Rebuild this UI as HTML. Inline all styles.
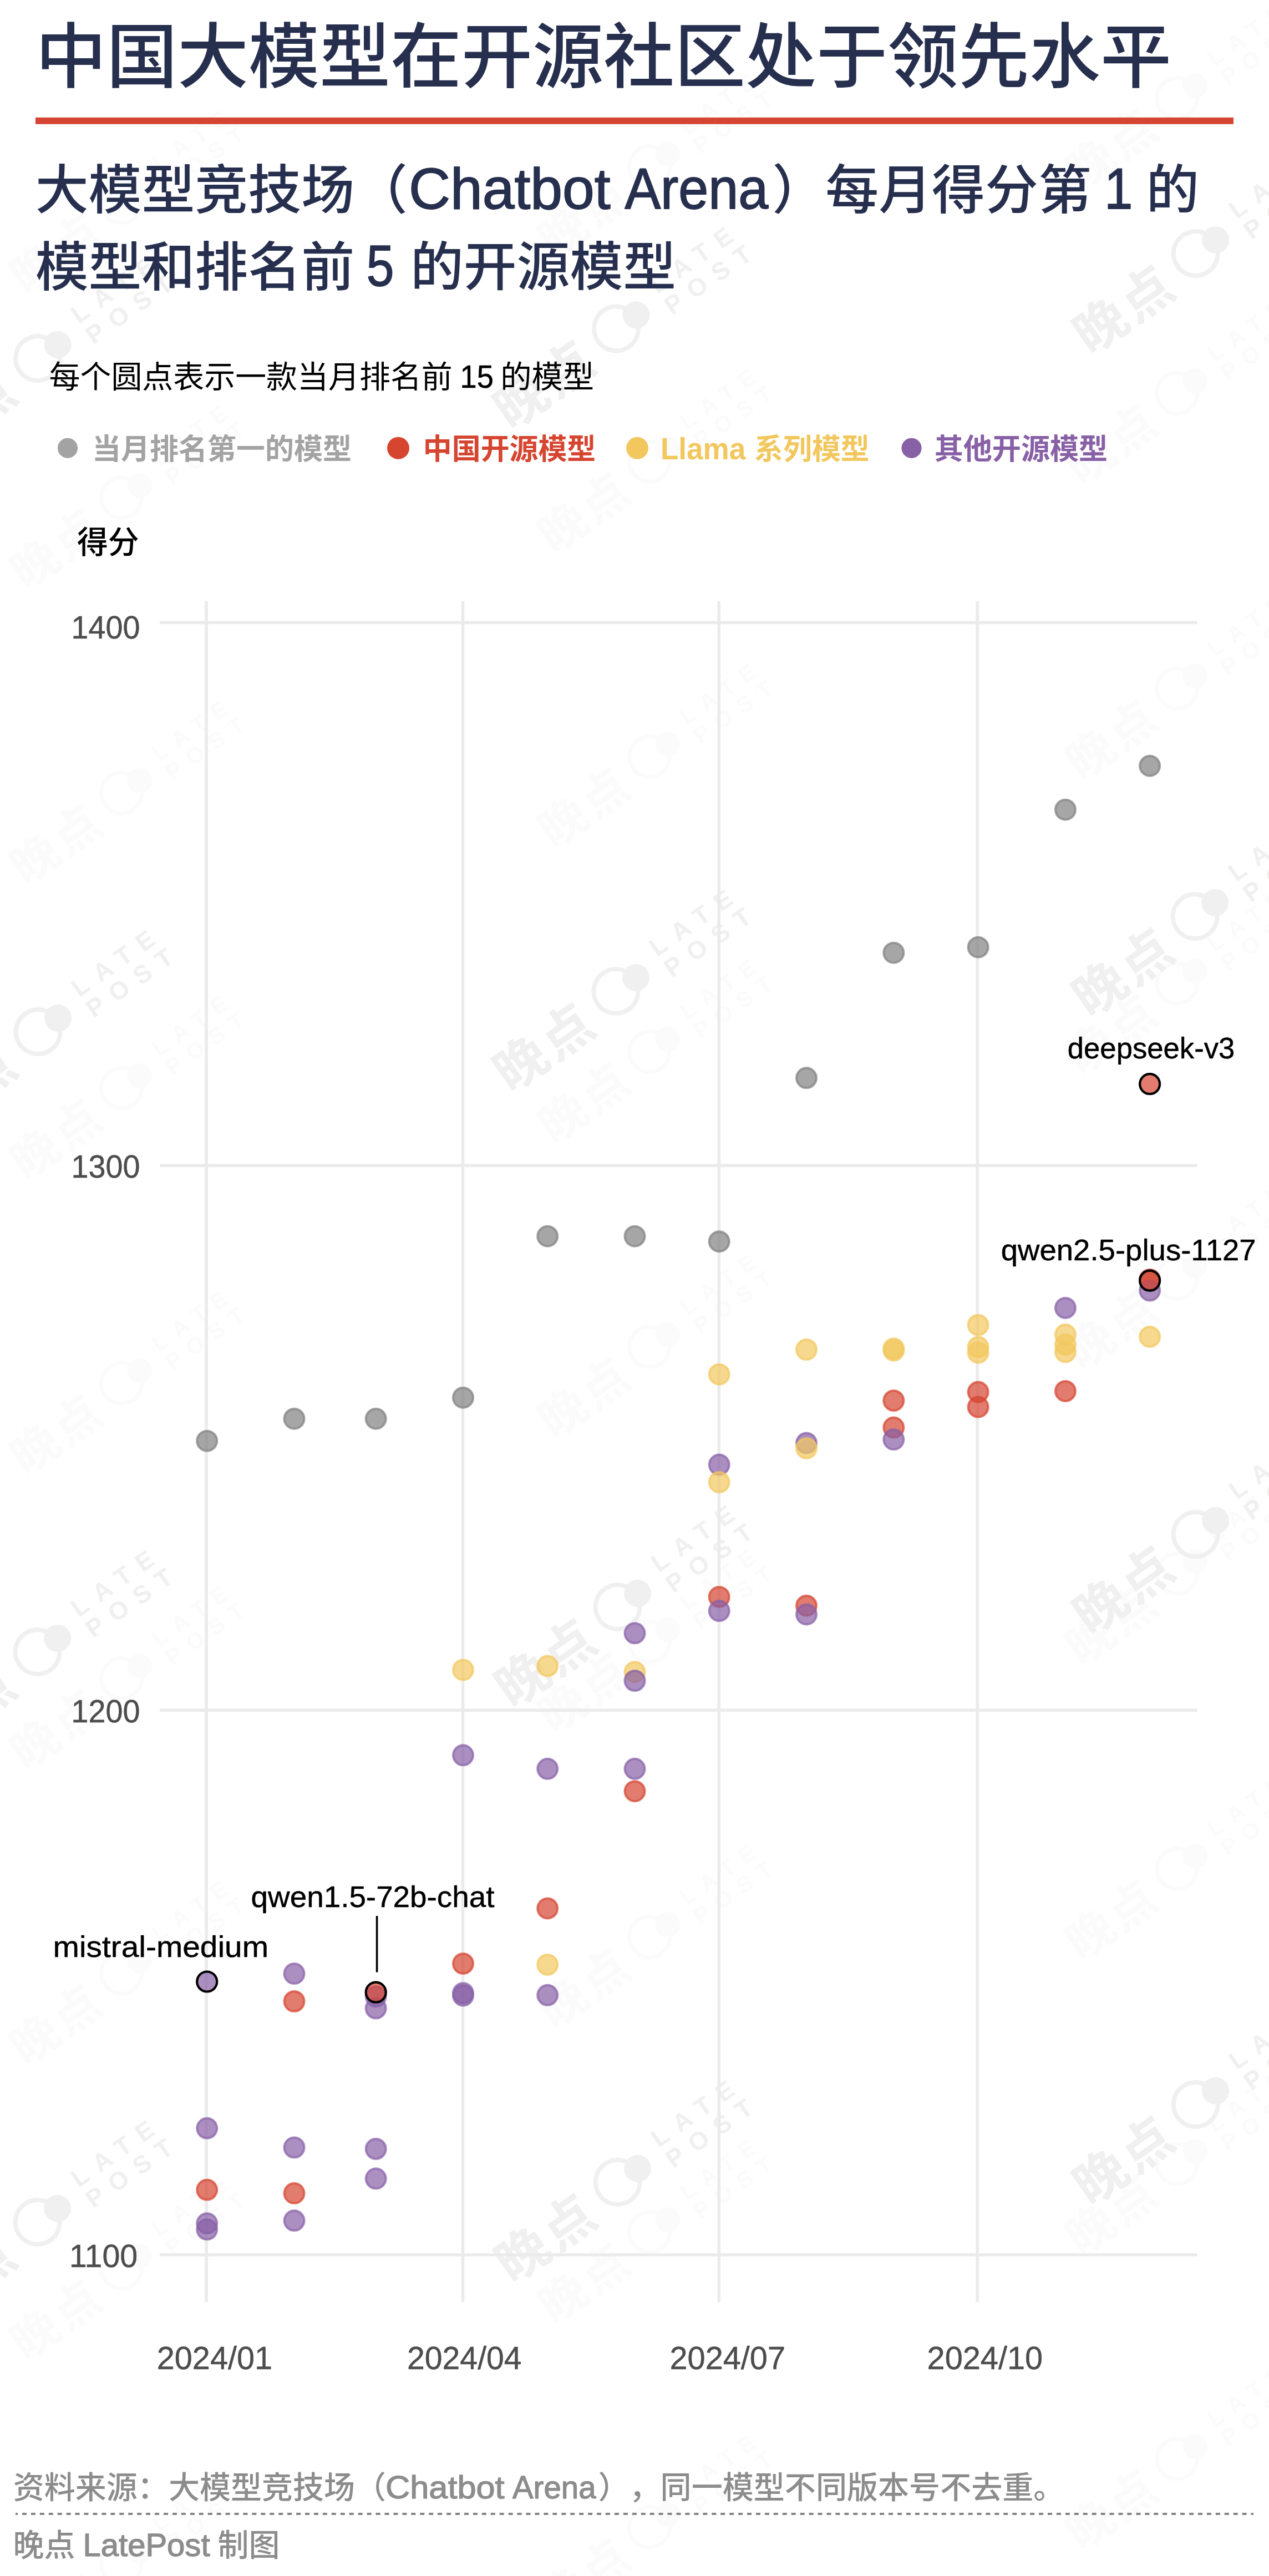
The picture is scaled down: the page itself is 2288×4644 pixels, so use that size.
<!DOCTYPE html>
<html lang="zh-CN"><head><meta charset="utf-8"><title>中国大模型在开源社区处于领先水平</title>
<style>
html,body{margin:0;padding:0;background:#fff;}
body{width:2288px;height:4644px;overflow:hidden;}
svg{display:block;font-family:"Liberation Sans","Noto Sans CJK SC",sans-serif;}
text{white-space:pre;text-spacing-trim:space-all;}
</style></head><body>
<svg width="2288" height="4644" viewBox="0 0 2288 4644">
<g transform="translate(219 -166.3) rotate(-35) scale(0.91)" fill="#fbfbfb" font-weight="700"><circle r="40" fill="none" stroke="#fbfbfb" stroke-width="8"/><circle cx="43.6" cy="0.5" r="24.5"/><text x="-262" y="42" font-size="94" letter-spacing="6">晚点</text><text x="96" y="-8" font-size="45" letter-spacing="19">LATE</text><text x="96" y="38" font-size="45" letter-spacing="19">POST</text></g>
<g transform="translate(219 365.7) rotate(-35) scale(0.91)" fill="#fbfbfb" font-weight="700"><circle r="40" fill="none" stroke="#fbfbfb" stroke-width="8"/><circle cx="43.6" cy="0.5" r="24.5"/><text x="-262" y="42" font-size="94" letter-spacing="6">晚点</text><text x="96" y="-8" font-size="45" letter-spacing="19">LATE</text><text x="96" y="38" font-size="45" letter-spacing="19">POST</text></g>
<g transform="translate(1171 300) rotate(-35) scale(0.91)" fill="#fbfbfb" font-weight="700"><circle r="40" fill="none" stroke="#fbfbfb" stroke-width="8"/><circle cx="43.6" cy="0.5" r="24.5"/><text x="-262" y="42" font-size="94" letter-spacing="6">晚点</text><text x="96" y="-8" font-size="45" letter-spacing="19">LATE</text><text x="96" y="38" font-size="45" letter-spacing="19">POST</text></g>
<g transform="translate(2122 177) rotate(-35) scale(0.91)" fill="#fbfbfb" font-weight="700"><circle r="40" fill="none" stroke="#fbfbfb" stroke-width="8"/><circle cx="43.6" cy="0.5" r="24.5"/><text x="-262" y="42" font-size="94" letter-spacing="6">晚点</text><text x="96" y="-8" font-size="45" letter-spacing="19">LATE</text><text x="96" y="38" font-size="45" letter-spacing="19">POST</text></g>
<g transform="translate(219 897.7) rotate(-35) scale(0.91)" fill="#fbfbfb" font-weight="700"><circle r="40" fill="none" stroke="#fbfbfb" stroke-width="8"/><circle cx="43.6" cy="0.5" r="24.5"/><text x="-262" y="42" font-size="94" letter-spacing="6">晚点</text><text x="96" y="-8" font-size="45" letter-spacing="19">LATE</text><text x="96" y="38" font-size="45" letter-spacing="19">POST</text></g>
<g transform="translate(1171 832) rotate(-35) scale(0.91)" fill="#fbfbfb" font-weight="700"><circle r="40" fill="none" stroke="#fbfbfb" stroke-width="8"/><circle cx="43.6" cy="0.5" r="24.5"/><text x="-262" y="42" font-size="94" letter-spacing="6">晚点</text><text x="96" y="-8" font-size="45" letter-spacing="19">LATE</text><text x="96" y="38" font-size="45" letter-spacing="19">POST</text></g>
<g transform="translate(2122 709) rotate(-35) scale(0.91)" fill="#fbfbfb" font-weight="700"><circle r="40" fill="none" stroke="#fbfbfb" stroke-width="8"/><circle cx="43.6" cy="0.5" r="24.5"/><text x="-262" y="42" font-size="94" letter-spacing="6">晚点</text><text x="96" y="-8" font-size="45" letter-spacing="19">LATE</text><text x="96" y="38" font-size="45" letter-spacing="19">POST</text></g>
<g transform="translate(219 1429.7) rotate(-35) scale(0.91)" fill="#fbfbfb" font-weight="700"><circle r="40" fill="none" stroke="#fbfbfb" stroke-width="8"/><circle cx="43.6" cy="0.5" r="24.5"/><text x="-262" y="42" font-size="94" letter-spacing="6">晚点</text><text x="96" y="-8" font-size="45" letter-spacing="19">LATE</text><text x="96" y="38" font-size="45" letter-spacing="19">POST</text></g>
<g transform="translate(1171 1364) rotate(-35) scale(0.91)" fill="#fbfbfb" font-weight="700"><circle r="40" fill="none" stroke="#fbfbfb" stroke-width="8"/><circle cx="43.6" cy="0.5" r="24.5"/><text x="-262" y="42" font-size="94" letter-spacing="6">晚点</text><text x="96" y="-8" font-size="45" letter-spacing="19">LATE</text><text x="96" y="38" font-size="45" letter-spacing="19">POST</text></g>
<g transform="translate(2122 1241) rotate(-35) scale(0.91)" fill="#fbfbfb" font-weight="700"><circle r="40" fill="none" stroke="#fbfbfb" stroke-width="8"/><circle cx="43.6" cy="0.5" r="24.5"/><text x="-262" y="42" font-size="94" letter-spacing="6">晚点</text><text x="96" y="-8" font-size="45" letter-spacing="19">LATE</text><text x="96" y="38" font-size="45" letter-spacing="19">POST</text></g>
<g transform="translate(219 1961.7) rotate(-35) scale(0.91)" fill="#fbfbfb" font-weight="700"><circle r="40" fill="none" stroke="#fbfbfb" stroke-width="8"/><circle cx="43.6" cy="0.5" r="24.5"/><text x="-262" y="42" font-size="94" letter-spacing="6">晚点</text><text x="96" y="-8" font-size="45" letter-spacing="19">LATE</text><text x="96" y="38" font-size="45" letter-spacing="19">POST</text></g>
<g transform="translate(1171 1896) rotate(-35) scale(0.91)" fill="#fbfbfb" font-weight="700"><circle r="40" fill="none" stroke="#fbfbfb" stroke-width="8"/><circle cx="43.6" cy="0.5" r="24.5"/><text x="-262" y="42" font-size="94" letter-spacing="6">晚点</text><text x="96" y="-8" font-size="45" letter-spacing="19">LATE</text><text x="96" y="38" font-size="45" letter-spacing="19">POST</text></g>
<g transform="translate(2122 1773) rotate(-35) scale(0.91)" fill="#fbfbfb" font-weight="700"><circle r="40" fill="none" stroke="#fbfbfb" stroke-width="8"/><circle cx="43.6" cy="0.5" r="24.5"/><text x="-262" y="42" font-size="94" letter-spacing="6">晚点</text><text x="96" y="-8" font-size="45" letter-spacing="19">LATE</text><text x="96" y="38" font-size="45" letter-spacing="19">POST</text></g>
<g transform="translate(219 2493.7) rotate(-35) scale(0.91)" fill="#fbfbfb" font-weight="700"><circle r="40" fill="none" stroke="#fbfbfb" stroke-width="8"/><circle cx="43.6" cy="0.5" r="24.5"/><text x="-262" y="42" font-size="94" letter-spacing="6">晚点</text><text x="96" y="-8" font-size="45" letter-spacing="19">LATE</text><text x="96" y="38" font-size="45" letter-spacing="19">POST</text></g>
<g transform="translate(1171 2428) rotate(-35) scale(0.91)" fill="#fbfbfb" font-weight="700"><circle r="40" fill="none" stroke="#fbfbfb" stroke-width="8"/><circle cx="43.6" cy="0.5" r="24.5"/><text x="-262" y="42" font-size="94" letter-spacing="6">晚点</text><text x="96" y="-8" font-size="45" letter-spacing="19">LATE</text><text x="96" y="38" font-size="45" letter-spacing="19">POST</text></g>
<g transform="translate(2122 2305) rotate(-35) scale(0.91)" fill="#fbfbfb" font-weight="700"><circle r="40" fill="none" stroke="#fbfbfb" stroke-width="8"/><circle cx="43.6" cy="0.5" r="24.5"/><text x="-262" y="42" font-size="94" letter-spacing="6">晚点</text><text x="96" y="-8" font-size="45" letter-spacing="19">LATE</text><text x="96" y="38" font-size="45" letter-spacing="19">POST</text></g>
<g transform="translate(219 3025.7) rotate(-35) scale(0.91)" fill="#fbfbfb" font-weight="700"><circle r="40" fill="none" stroke="#fbfbfb" stroke-width="8"/><circle cx="43.6" cy="0.5" r="24.5"/><text x="-262" y="42" font-size="94" letter-spacing="6">晚点</text><text x="96" y="-8" font-size="45" letter-spacing="19">LATE</text><text x="96" y="38" font-size="45" letter-spacing="19">POST</text></g>
<g transform="translate(1171 2960) rotate(-35) scale(0.91)" fill="#fbfbfb" font-weight="700"><circle r="40" fill="none" stroke="#fbfbfb" stroke-width="8"/><circle cx="43.6" cy="0.5" r="24.5"/><text x="-262" y="42" font-size="94" letter-spacing="6">晚点</text><text x="96" y="-8" font-size="45" letter-spacing="19">LATE</text><text x="96" y="38" font-size="45" letter-spacing="19">POST</text></g>
<g transform="translate(2122 2837) rotate(-35) scale(0.91)" fill="#fbfbfb" font-weight="700"><circle r="40" fill="none" stroke="#fbfbfb" stroke-width="8"/><circle cx="43.6" cy="0.5" r="24.5"/><text x="-262" y="42" font-size="94" letter-spacing="6">晚点</text><text x="96" y="-8" font-size="45" letter-spacing="19">LATE</text><text x="96" y="38" font-size="45" letter-spacing="19">POST</text></g>
<g transform="translate(219 3557.7) rotate(-35) scale(0.91)" fill="#fbfbfb" font-weight="700"><circle r="40" fill="none" stroke="#fbfbfb" stroke-width="8"/><circle cx="43.6" cy="0.5" r="24.5"/><text x="-262" y="42" font-size="94" letter-spacing="6">晚点</text><text x="96" y="-8" font-size="45" letter-spacing="19">LATE</text><text x="96" y="38" font-size="45" letter-spacing="19">POST</text></g>
<g transform="translate(1171 3492) rotate(-35) scale(0.91)" fill="#fbfbfb" font-weight="700"><circle r="40" fill="none" stroke="#fbfbfb" stroke-width="8"/><circle cx="43.6" cy="0.5" r="24.5"/><text x="-262" y="42" font-size="94" letter-spacing="6">晚点</text><text x="96" y="-8" font-size="45" letter-spacing="19">LATE</text><text x="96" y="38" font-size="45" letter-spacing="19">POST</text></g>
<g transform="translate(2122 3369) rotate(-35) scale(0.91)" fill="#fbfbfb" font-weight="700"><circle r="40" fill="none" stroke="#fbfbfb" stroke-width="8"/><circle cx="43.6" cy="0.5" r="24.5"/><text x="-262" y="42" font-size="94" letter-spacing="6">晚点</text><text x="96" y="-8" font-size="45" letter-spacing="19">LATE</text><text x="96" y="38" font-size="45" letter-spacing="19">POST</text></g>
<g transform="translate(219 4089.7) rotate(-35) scale(0.91)" fill="#fbfbfb" font-weight="700"><circle r="40" fill="none" stroke="#fbfbfb" stroke-width="8"/><circle cx="43.6" cy="0.5" r="24.5"/><text x="-262" y="42" font-size="94" letter-spacing="6">晚点</text><text x="96" y="-8" font-size="45" letter-spacing="19">LATE</text><text x="96" y="38" font-size="45" letter-spacing="19">POST</text></g>
<g transform="translate(1171 4024) rotate(-35) scale(0.91)" fill="#fbfbfb" font-weight="700"><circle r="40" fill="none" stroke="#fbfbfb" stroke-width="8"/><circle cx="43.6" cy="0.5" r="24.5"/><text x="-262" y="42" font-size="94" letter-spacing="6">晚点</text><text x="96" y="-8" font-size="45" letter-spacing="19">LATE</text><text x="96" y="38" font-size="45" letter-spacing="19">POST</text></g>
<g transform="translate(2122 3901) rotate(-35) scale(0.91)" fill="#fbfbfb" font-weight="700"><circle r="40" fill="none" stroke="#fbfbfb" stroke-width="8"/><circle cx="43.6" cy="0.5" r="24.5"/><text x="-262" y="42" font-size="94" letter-spacing="6">晚点</text><text x="96" y="-8" font-size="45" letter-spacing="19">LATE</text><text x="96" y="38" font-size="45" letter-spacing="19">POST</text></g>
<g transform="translate(219 4621.7) rotate(-35) scale(0.91)" fill="#fbfbfb" font-weight="700"><circle r="40" fill="none" stroke="#fbfbfb" stroke-width="8"/><circle cx="43.6" cy="0.5" r="24.5"/><text x="-262" y="42" font-size="94" letter-spacing="6">晚点</text><text x="96" y="-8" font-size="45" letter-spacing="19">LATE</text><text x="96" y="38" font-size="45" letter-spacing="19">POST</text></g>
<g transform="translate(1171 4556) rotate(-35) scale(0.91)" fill="#fbfbfb" font-weight="700"><circle r="40" fill="none" stroke="#fbfbfb" stroke-width="8"/><circle cx="43.6" cy="0.5" r="24.5"/><text x="-262" y="42" font-size="94" letter-spacing="6">晚点</text><text x="96" y="-8" font-size="45" letter-spacing="19">LATE</text><text x="96" y="38" font-size="45" letter-spacing="19">POST</text></g>
<g transform="translate(2122 4433) rotate(-35) scale(0.91)" fill="#fbfbfb" font-weight="700"><circle r="40" fill="none" stroke="#fbfbfb" stroke-width="8"/><circle cx="43.6" cy="0.5" r="24.5"/><text x="-262" y="42" font-size="94" letter-spacing="6">晚点</text><text x="96" y="-8" font-size="45" letter-spacing="19">LATE</text><text x="96" y="38" font-size="45" letter-spacing="19">POST</text></g>
<g transform="translate(68 646) rotate(-35) scale(1)" fill="#f0f0f0" font-weight="700"><circle r="40" fill="none" stroke="#f0f0f0" stroke-width="8"/><circle cx="43.6" cy="0.5" r="24.5"/><text x="-262" y="42" font-size="94" letter-spacing="6">晚点</text><text x="96" y="-8" font-size="45" letter-spacing="19">LATE</text><text x="96" y="38" font-size="45" letter-spacing="19">POST</text></g>
<g transform="translate(68.6 1860) rotate(-35) scale(1)" fill="#f0f0f0" font-weight="700"><circle r="40" fill="none" stroke="#f0f0f0" stroke-width="8"/><circle cx="43.6" cy="0.5" r="24.5"/><text x="-262" y="42" font-size="94" letter-spacing="6">晚点</text><text x="96" y="-8" font-size="45" letter-spacing="19">LATE</text><text x="96" y="38" font-size="45" letter-spacing="19">POST</text></g>
<g transform="translate(67.6 2978) rotate(-35) scale(1)" fill="#f0f0f0" font-weight="700"><circle r="40" fill="none" stroke="#f0f0f0" stroke-width="8"/><circle cx="43.6" cy="0.5" r="24.5"/><text x="-262" y="42" font-size="94" letter-spacing="6">晚点</text><text x="96" y="-8" font-size="45" letter-spacing="19">LATE</text><text x="96" y="38" font-size="45" letter-spacing="19">POST</text></g>
<g transform="translate(67.6 4006) rotate(-35) scale(1)" fill="#f0f0f0" font-weight="700"><circle r="40" fill="none" stroke="#f0f0f0" stroke-width="8"/><circle cx="43.6" cy="0.5" r="24.5"/><text x="-262" y="42" font-size="94" letter-spacing="6">晚点</text><text x="96" y="-8" font-size="45" letter-spacing="19">LATE</text><text x="96" y="38" font-size="45" letter-spacing="19">POST</text></g>
<g transform="translate(1111 592.4) rotate(-35) scale(1)" fill="#f0f0f0" font-weight="700"><circle r="40" fill="none" stroke="#f0f0f0" stroke-width="8"/><circle cx="43.6" cy="0.5" r="24.5"/><text x="-262" y="42" font-size="94" letter-spacing="6">晚点</text><text x="96" y="-8" font-size="45" letter-spacing="19">LATE</text><text x="96" y="38" font-size="45" letter-spacing="19">POST</text></g>
<g transform="translate(1110.5 1787) rotate(-35) scale(1)" fill="#f0f0f0" font-weight="700"><circle r="40" fill="none" stroke="#f0f0f0" stroke-width="8"/><circle cx="43.6" cy="0.5" r="24.5"/><text x="-262" y="42" font-size="94" letter-spacing="6">晚点</text><text x="96" y="-8" font-size="45" letter-spacing="19">LATE</text><text x="96" y="38" font-size="45" letter-spacing="19">POST</text></g>
<g transform="translate(1113.6 2897) rotate(-35) scale(1)" fill="#f0f0f0" font-weight="700"><circle r="40" fill="none" stroke="#f0f0f0" stroke-width="8"/><circle cx="43.6" cy="0.5" r="24.5"/><text x="-262" y="42" font-size="94" letter-spacing="6">晚点</text><text x="96" y="-8" font-size="45" letter-spacing="19">LATE</text><text x="96" y="38" font-size="45" letter-spacing="19">POST</text></g>
<g transform="translate(1113.6 3934) rotate(-35) scale(1)" fill="#f0f0f0" font-weight="700"><circle r="40" fill="none" stroke="#f0f0f0" stroke-width="8"/><circle cx="43.6" cy="0.5" r="24.5"/><text x="-262" y="42" font-size="94" letter-spacing="6">晚点</text><text x="96" y="-8" font-size="45" letter-spacing="19">LATE</text><text x="96" y="38" font-size="45" letter-spacing="19">POST</text></g>
<g transform="translate(2155.7 457) rotate(-35) scale(1)" fill="#f0f0f0" font-weight="700"><circle r="40" fill="none" stroke="#f0f0f0" stroke-width="8"/><circle cx="43.6" cy="0.5" r="24.5"/><text x="-262" y="42" font-size="94" letter-spacing="6">晚点</text><text x="96" y="-8" font-size="45" letter-spacing="19">LATE</text><text x="96" y="38" font-size="45" letter-spacing="19">POST</text></g>
<g transform="translate(2154.6 1652) rotate(-35) scale(1)" fill="#f0f0f0" font-weight="700"><circle r="40" fill="none" stroke="#f0f0f0" stroke-width="8"/><circle cx="43.6" cy="0.5" r="24.5"/><text x="-262" y="42" font-size="94" letter-spacing="6">晚点</text><text x="96" y="-8" font-size="45" letter-spacing="19">LATE</text><text x="96" y="38" font-size="45" letter-spacing="19">POST</text></g>
<g transform="translate(2155.7 2766) rotate(-35) scale(1)" fill="#f0f0f0" font-weight="700"><circle r="40" fill="none" stroke="#f0f0f0" stroke-width="8"/><circle cx="43.6" cy="0.5" r="24.5"/><text x="-262" y="42" font-size="94" letter-spacing="6">晚点</text><text x="96" y="-8" font-size="45" letter-spacing="19">LATE</text><text x="96" y="38" font-size="45" letter-spacing="19">POST</text></g>
<g transform="translate(2155.7 3794) rotate(-35) scale(1)" fill="#f0f0f0" font-weight="700"><circle r="40" fill="none" stroke="#f0f0f0" stroke-width="8"/><circle cx="43.6" cy="0.5" r="24.5"/><text x="-262" y="42" font-size="94" letter-spacing="6">晚点</text><text x="96" y="-8" font-size="45" letter-spacing="19">LATE</text><text x="96" y="38" font-size="45" letter-spacing="19">POST</text></g>
<rect x="369.2" y="1084" width="5.6" height="3066.5" fill="#ebebeb"/>
<rect x="831.7" y="1084" width="5.6" height="3066.5" fill="#ebebeb"/>
<rect x="1293.5" y="1084" width="5.6" height="3066.5" fill="#ebebeb"/>
<rect x="1759.4" y="1084" width="5.6" height="3066.5" fill="#ebebeb"/>
<rect x="288" y="1119.6000000000001" width="1870.6" height="5.6" fill="#ebebeb"/>
<rect x="288" y="2098.5" width="1870.6" height="5.6" fill="#ebebeb"/>
<rect x="288" y="3080.3999999999996" width="1870.6" height="5.6" fill="#ebebeb"/>
<rect x="288" y="4062.2" width="1870.6" height="5.6" fill="#ebebeb"/>
<text x="64" y="147.7" font-size="128" font-weight="500" fill="#272f4e" text-anchor="start">中国大模型在开源社区处于领先水平</text>
<rect x="64" y="211.8" width="2160" height="12" fill="#d64533"/>
<text x="63.7" y="375.5" font-size="95.9" font-weight="500" fill="#272f4e" text-anchor="start">大模型竞技场（</text>
<text x="737.0" y="375.5" font-size="104" font-weight="400" fill="#272f4e" text-anchor="start" textLength="363.5" lengthAdjust="spacingAndGlyphs" stroke="#272f4e" stroke-width="1.8" stroke-linejoin="round">Chatbot</text>
<text x="1126.4" y="375.5" font-size="104" font-weight="400" fill="#272f4e" text-anchor="start" textLength="258.7" lengthAdjust="spacingAndGlyphs" stroke="#272f4e" stroke-width="1.8" stroke-linejoin="round">Arena</text>
<text x="1392.3" y="375.5" font-size="95.95" font-weight="500" fill="#272f4e" text-anchor="start">）每月得分第</text>
<text x="1991.3" y="375.5" font-size="103" font-weight="400" fill="#272f4e" text-anchor="start" textLength="51.1" lengthAdjust="spacingAndGlyphs" stroke="#272f4e" stroke-width="1.8" stroke-linejoin="round">1</text>
<text x="2066.5" y="375.5" font-size="95.5" font-weight="500" fill="#272f4e" text-anchor="start">的</text>
<text x="63.7" y="515.3" font-size="95.9" font-weight="500" fill="#272f4e" text-anchor="start">模型和排名前</text>
<text x="660.8" y="515.3" font-size="103" font-weight="400" fill="#272f4e" text-anchor="start" textLength="49.7" lengthAdjust="spacingAndGlyphs" stroke="#272f4e" stroke-width="1.8" stroke-linejoin="round">5</text>
<text x="740" y="515.3" font-size="95.8" font-weight="500" fill="#272f4e" text-anchor="start">的开源模型</text>
<text x="88.5" y="698.6" font-size="56" font-weight="400" fill="#000" text-anchor="start" textLength="727.3" lengthAdjust="spacingAndGlyphs">每个圆点表示一款当月排名前</text>
<text x="829.5" y="698.6" font-size="57" font-weight="400" fill="#000" text-anchor="start" textLength="60.3" lengthAdjust="spacingAndGlyphs" stroke="#000" stroke-width="0.6" stroke-linejoin="round">15</text>
<text x="902.2" y="698.6" font-size="56" font-weight="400" fill="#000" text-anchor="start" textLength="168.8" lengthAdjust="spacingAndGlyphs">的模型</text>
<circle cx="122" cy="807.8" r="18.1" fill="#a3a3a3"/>
<circle cx="718" cy="807.8" r="20" fill="#d64530"/>
<circle cx="1149" cy="807.8" r="20" fill="#f2c75e"/>
<circle cx="1643.5" cy="807.8" r="18.1" fill="#8860a6"/>
<text x="166.1" y="827.5" font-size="52" font-weight="700" fill="#a3a3a3" text-anchor="start" textLength="468.0" lengthAdjust="spacingAndGlyphs">当月排名第一的模型</text>
<text x="762.8" y="827.5" font-size="52" font-weight="700" fill="#d64530" text-anchor="start" textLength="311.5" lengthAdjust="spacingAndGlyphs">中国开源模型</text>
<text x="1190.9" y="827.5" font-size="55" font-weight="700" fill="#f2c75e" text-anchor="start" textLength="153.5" lengthAdjust="spacingAndGlyphs">Llama</text>
<text x="1360.1" y="827.5" font-size="52" font-weight="700" fill="#f2c75e" text-anchor="start" textLength="207.6" lengthAdjust="spacingAndGlyphs">系列模型</text>
<text x="1684.8" y="827.5" font-size="52" font-weight="700" fill="#8860a6" text-anchor="start" textLength="312.2" lengthAdjust="spacingAndGlyphs">其他开源模型</text>
<text x="138.9" y="996.8" font-size="56" font-weight="500" fill="#000" text-anchor="start" textLength="111.9" lengthAdjust="spacingAndGlyphs">得分</text>
<text x="128.5" y="1150.9" font-size="57.3" font-weight="400" fill="#4d4d4d" text-anchor="start" textLength="124.0" lengthAdjust="spacingAndGlyphs" stroke="#4d4d4d" stroke-width="0.5" stroke-linejoin="round">1400</text>
<text x="128.5" y="2123.1" font-size="57.3" font-weight="400" fill="#4d4d4d" text-anchor="start" textLength="124.0" lengthAdjust="spacingAndGlyphs" stroke="#4d4d4d" stroke-width="0.5" stroke-linejoin="round">1300</text>
<text x="128.5" y="3104.7999999999997" font-size="57.3" font-weight="400" fill="#4d4d4d" text-anchor="start" textLength="124.0" lengthAdjust="spacingAndGlyphs" stroke="#4d4d4d" stroke-width="0.5" stroke-linejoin="round">1200</text>
<text x="124.8" y="4086.7" font-size="57.3" font-weight="400" fill="#4d4d4d" text-anchor="start" textLength="123.5" lengthAdjust="spacingAndGlyphs" stroke="#4d4d4d" stroke-width="0.5" stroke-linejoin="round">1100</text>
<text x="282.8" y="4270.6" font-size="57.3" font-weight="400" fill="#4d4d4d" text-anchor="start" textLength="208.2" lengthAdjust="spacingAndGlyphs" stroke="#4d4d4d" stroke-width="0.5" stroke-linejoin="round">2024/01</text>
<text x="734.0" y="4270.6" font-size="57.3" font-weight="400" fill="#4d4d4d" text-anchor="start" textLength="206.6" lengthAdjust="spacingAndGlyphs" stroke="#4d4d4d" stroke-width="0.5" stroke-linejoin="round">2024/04</text>
<text x="1207.5" y="4270.6" font-size="57.3" font-weight="400" fill="#4d4d4d" text-anchor="start" textLength="208.5" lengthAdjust="spacingAndGlyphs" stroke="#4d4d4d" stroke-width="0.5" stroke-linejoin="round">2024/07</text>
<text x="1671.6" y="4270.6" font-size="57.3" font-weight="400" fill="#4d4d4d" text-anchor="start" textLength="208.5" lengthAdjust="spacingAndGlyphs" stroke="#4d4d4d" stroke-width="0.5" stroke-linejoin="round">2024/10</text>
<circle cx="373.2" cy="2597.7" r="18" fill="#808080" stroke="#808080" stroke-width="4" fill-opacity=".7" stroke-opacity=".7"/>
<circle cx="530.5" cy="2557.7" r="18" fill="#808080" stroke="#808080" stroke-width="4" fill-opacity=".7" stroke-opacity=".7"/>
<circle cx="677.7" cy="2557.7" r="18" fill="#808080" stroke="#808080" stroke-width="4" fill-opacity=".7" stroke-opacity=".7"/>
<circle cx="835.0" cy="2519.7" r="18" fill="#808080" stroke="#808080" stroke-width="4" fill-opacity=".7" stroke-opacity=".7"/>
<circle cx="987.2" cy="2228.7" r="18" fill="#808080" stroke="#808080" stroke-width="4" fill-opacity=".7" stroke-opacity=".7"/>
<circle cx="1144.5" cy="2228.7" r="18" fill="#808080" stroke="#808080" stroke-width="4" fill-opacity=".7" stroke-opacity=".7"/>
<circle cx="1296.7" cy="2238.2" r="18" fill="#808080" stroke="#808080" stroke-width="4" fill-opacity=".7" stroke-opacity=".7"/>
<circle cx="1454.0" cy="1943.3" r="18" fill="#808080" stroke="#808080" stroke-width="4" fill-opacity=".7" stroke-opacity=".7"/>
<circle cx="1611.3" cy="1717.7" r="18" fill="#808080" stroke="#808080" stroke-width="4" fill-opacity=".7" stroke-opacity=".7"/>
<circle cx="1763.6" cy="1707.7" r="18" fill="#808080" stroke="#808080" stroke-width="4" fill-opacity=".7" stroke-opacity=".7"/>
<circle cx="1920.9" cy="1459.7" r="18" fill="#808080" stroke="#808080" stroke-width="4" fill-opacity=".7" stroke-opacity=".7"/>
<circle cx="2073.1" cy="1380.7" r="18" fill="#808080" stroke="#808080" stroke-width="4" fill-opacity=".7" stroke-opacity=".7"/>
<circle cx="373.2" cy="3836.8" r="18" fill="#8860a6" stroke="#8860a6" stroke-width="4" fill-opacity=".7" stroke-opacity=".7"/>
<circle cx="373.2" cy="3947.8" r="18" fill="#d64530" stroke="#d64530" stroke-width="4" fill-opacity=".7" stroke-opacity=".7"/>
<circle cx="373.2" cy="4008.3" r="18" fill="#8860a6" stroke="#8860a6" stroke-width="4" fill-opacity=".7" stroke-opacity=".7"/>
<circle cx="373.2" cy="4019.3" r="18" fill="#8860a6" stroke="#8860a6" stroke-width="4" fill-opacity=".7" stroke-opacity=".7"/>
<circle cx="530.5" cy="3558.1" r="18" fill="#8860a6" stroke="#8860a6" stroke-width="4" fill-opacity=".7" stroke-opacity=".7"/>
<circle cx="530.5" cy="3608.0" r="18" fill="#d64530" stroke="#d64530" stroke-width="4" fill-opacity=".7" stroke-opacity=".7"/>
<circle cx="530.5" cy="3871.5" r="18" fill="#8860a6" stroke="#8860a6" stroke-width="4" fill-opacity=".7" stroke-opacity=".7"/>
<circle cx="530.5" cy="3954.1" r="18" fill="#d64530" stroke="#d64530" stroke-width="4" fill-opacity=".7" stroke-opacity=".7"/>
<circle cx="530.5" cy="4003.3" r="18" fill="#8860a6" stroke="#8860a6" stroke-width="4" fill-opacity=".7" stroke-opacity=".7"/>
<circle cx="677.7" cy="3599.3" r="18" fill="#8860a6" stroke="#8860a6" stroke-width="4" fill-opacity=".7" stroke-opacity=".7"/>
<circle cx="677.7" cy="3620.5" r="18" fill="#8860a6" stroke="#8860a6" stroke-width="4" fill-opacity=".7" stroke-opacity=".7"/>
<circle cx="677.7" cy="3874.0" r="18" fill="#8860a6" stroke="#8860a6" stroke-width="4" fill-opacity=".7" stroke-opacity=".7"/>
<circle cx="677.7" cy="3927.6" r="18" fill="#8860a6" stroke="#8860a6" stroke-width="4" fill-opacity=".7" stroke-opacity=".7"/>
<circle cx="835.0" cy="3010.4" r="18" fill="#f2c75e" stroke="#f2c75e" stroke-width="4" fill-opacity=".7" stroke-opacity=".7"/>
<circle cx="835.0" cy="3164.3" r="18" fill="#8860a6" stroke="#8860a6" stroke-width="4" fill-opacity=".7" stroke-opacity=".7"/>
<circle cx="835.0" cy="3540.0" r="18" fill="#d64530" stroke="#d64530" stroke-width="4" fill-opacity=".7" stroke-opacity=".7"/>
<circle cx="835.0" cy="3593.2" r="18" fill="#8860a6" stroke="#8860a6" stroke-width="4" fill-opacity=".7" stroke-opacity=".7"/>
<circle cx="835.0" cy="3597.7" r="18" fill="#8860a6" stroke="#8860a6" stroke-width="4" fill-opacity=".7" stroke-opacity=".7"/>
<circle cx="987.2" cy="3003.5" r="18" fill="#f2c75e" stroke="#f2c75e" stroke-width="4" fill-opacity=".7" stroke-opacity=".7"/>
<circle cx="987.2" cy="3188.8" r="18" fill="#8860a6" stroke="#8860a6" stroke-width="4" fill-opacity=".7" stroke-opacity=".7"/>
<circle cx="987.2" cy="3440.4" r="18" fill="#d64530" stroke="#d64530" stroke-width="4" fill-opacity=".7" stroke-opacity=".7"/>
<circle cx="987.2" cy="3541.9" r="18" fill="#f2c75e" stroke="#f2c75e" stroke-width="4" fill-opacity=".7" stroke-opacity=".7"/>
<circle cx="987.2" cy="3596.8" r="18" fill="#8860a6" stroke="#8860a6" stroke-width="4" fill-opacity=".7" stroke-opacity=".7"/>
<circle cx="1144.5" cy="2944.3" r="18" fill="#8860a6" stroke="#8860a6" stroke-width="4" fill-opacity=".7" stroke-opacity=".7"/>
<circle cx="1144.5" cy="3014.2" r="18" fill="#f2c75e" stroke="#f2c75e" stroke-width="4" fill-opacity=".7" stroke-opacity=".7"/>
<circle cx="1144.5" cy="3030.0" r="18" fill="#8860a6" stroke="#8860a6" stroke-width="4" fill-opacity=".7" stroke-opacity=".7"/>
<circle cx="1144.5" cy="3188.8" r="18" fill="#8860a6" stroke="#8860a6" stroke-width="4" fill-opacity=".7" stroke-opacity=".7"/>
<circle cx="1144.5" cy="3229.2" r="18" fill="#d64530" stroke="#d64530" stroke-width="4" fill-opacity=".7" stroke-opacity=".7"/>
<circle cx="1296.7" cy="2477.7" r="18" fill="#f2c75e" stroke="#f2c75e" stroke-width="4" fill-opacity=".7" stroke-opacity=".7"/>
<circle cx="1296.7" cy="2640.6" r="18" fill="#8860a6" stroke="#8860a6" stroke-width="4" fill-opacity=".7" stroke-opacity=".7"/>
<circle cx="1296.7" cy="2672.1" r="18" fill="#f2c75e" stroke="#f2c75e" stroke-width="4" fill-opacity=".7" stroke-opacity=".7"/>
<circle cx="1296.7" cy="2878.9" r="18" fill="#d64530" stroke="#d64530" stroke-width="4" fill-opacity=".7" stroke-opacity=".7"/>
<circle cx="1296.7" cy="2904.1" r="18" fill="#8860a6" stroke="#8860a6" stroke-width="4" fill-opacity=".7" stroke-opacity=".7"/>
<circle cx="1454.0" cy="2433.0" r="18" fill="#f2c75e" stroke="#f2c75e" stroke-width="4" fill-opacity=".7" stroke-opacity=".7"/>
<circle cx="1454.0" cy="2601.5" r="18" fill="#8860a6" stroke="#8860a6" stroke-width="4" fill-opacity=".7" stroke-opacity=".7"/>
<circle cx="1454.0" cy="2610.9" r="18" fill="#f2c75e" stroke="#f2c75e" stroke-width="4" fill-opacity=".7" stroke-opacity=".7"/>
<circle cx="1454.0" cy="2894.7" r="18" fill="#d64530" stroke="#d64530" stroke-width="4" fill-opacity=".7" stroke-opacity=".7"/>
<circle cx="1454.0" cy="2910.4" r="18" fill="#8860a6" stroke="#8860a6" stroke-width="4" fill-opacity=".7" stroke-opacity=".7"/>
<circle cx="1611.3" cy="2431.2" r="18" fill="#f2c75e" stroke="#f2c75e" stroke-width="4" fill-opacity=".7" stroke-opacity=".7"/>
<circle cx="1611.3" cy="2434.7" r="18" fill="#f2c75e" stroke="#f2c75e" stroke-width="4" fill-opacity=".7" stroke-opacity=".7"/>
<circle cx="1611.3" cy="2525.0" r="18" fill="#d64530" stroke="#d64530" stroke-width="4" fill-opacity=".7" stroke-opacity=".7"/>
<circle cx="1611.3" cy="2573.6" r="18" fill="#d64530" stroke="#d64530" stroke-width="4" fill-opacity=".7" stroke-opacity=".7"/>
<circle cx="1611.3" cy="2595.1" r="18" fill="#8860a6" stroke="#8860a6" stroke-width="4" fill-opacity=".7" stroke-opacity=".7"/>
<circle cx="1763.6" cy="2388.7" r="18" fill="#f2c75e" stroke="#f2c75e" stroke-width="4" fill-opacity=".7" stroke-opacity=".7"/>
<circle cx="1763.6" cy="2428.5" r="18" fill="#f2c75e" stroke="#f2c75e" stroke-width="4" fill-opacity=".7" stroke-opacity=".7"/>
<circle cx="1763.6" cy="2438.5" r="18" fill="#f2c75e" stroke="#f2c75e" stroke-width="4" fill-opacity=".7" stroke-opacity=".7"/>
<circle cx="1763.6" cy="2509.6" r="18" fill="#d64530" stroke="#d64530" stroke-width="4" fill-opacity=".7" stroke-opacity=".7"/>
<circle cx="1763.6" cy="2536.6" r="18" fill="#d64530" stroke="#d64530" stroke-width="4" fill-opacity=".7" stroke-opacity=".7"/>
<circle cx="1920.9" cy="2357.9" r="18" fill="#8860a6" stroke="#8860a6" stroke-width="4" fill-opacity=".7" stroke-opacity=".7"/>
<circle cx="1920.9" cy="2405.9" r="18" fill="#f2c75e" stroke="#f2c75e" stroke-width="4" fill-opacity=".7" stroke-opacity=".7"/>
<circle cx="1920.9" cy="2424.1" r="18" fill="#f2c75e" stroke="#f2c75e" stroke-width="4" fill-opacity=".7" stroke-opacity=".7"/>
<circle cx="1920.9" cy="2437.3" r="18" fill="#f2c75e" stroke="#f2c75e" stroke-width="4" fill-opacity=".7" stroke-opacity=".7"/>
<circle cx="1920.9" cy="2507.9" r="18" fill="#d64530" stroke="#d64530" stroke-width="4" fill-opacity=".7" stroke-opacity=".7"/>
<circle cx="2073.1" cy="2306.7" r="18" fill="#d64530" stroke="#d64530" stroke-width="4" fill-opacity=".7" stroke-opacity=".7"/>
<circle cx="2073.1" cy="2326.5" r="18" fill="#8860a6" stroke="#8860a6" stroke-width="4" fill-opacity=".7" stroke-opacity=".7"/>
<circle cx="2073.1" cy="2409.9" r="18" fill="#f2c75e" stroke="#f2c75e" stroke-width="4" fill-opacity=".7" stroke-opacity=".7"/>
<circle cx="373.2" cy="3572.5" r="18" fill="#8860a6" stroke="#000" stroke-width="4.2" fill-opacity=".7"/>
<circle cx="677.7" cy="3591.7" r="18" fill="#d64530" stroke="#000" stroke-width="4.2" fill-opacity=".7"/>
<circle cx="2073.1" cy="1954.2" r="18" fill="#d64530" stroke="#000" stroke-width="4.2" fill-opacity=".7"/>
<circle cx="2073.1" cy="2308.7" r="18" fill="#d64530" stroke="#000" stroke-width="4.2" fill-opacity=".7"/>
<rect x="677.8" y="3454" width="3.6" height="101.5" fill="#000"/>
<text x="1924.8" y="1907.5" font-size="53" font-weight="400" fill="#000" text-anchor="start" textLength="301.5" lengthAdjust="spacingAndGlyphs" stroke="#000" stroke-width="0.5" stroke-linejoin="round">deepseek-v3</text>
<text x="1804.7" y="2271.5" font-size="53" font-weight="400" fill="#000" text-anchor="start" textLength="460.0" lengthAdjust="spacingAndGlyphs" stroke="#000" stroke-width="0.5" stroke-linejoin="round">qwen2.5-plus-1127</text>
<text x="452.6" y="3438.3" font-size="53" font-weight="400" fill="#000" text-anchor="start" textLength="438.9" lengthAdjust="spacingAndGlyphs" stroke="#000" stroke-width="0.5" stroke-linejoin="round">qwen1.5-72b-chat</text>
<text x="95.6" y="3527.8" font-size="53" font-weight="400" fill="#000" text-anchor="start" textLength="388.5" lengthAdjust="spacingAndGlyphs" stroke="#000" stroke-width="0.5" stroke-linejoin="round">mistral-medium</text>
<text x="23.8" y="4504" font-size="56" font-weight="500" fill="#8c8c8c" text-anchor="start" textLength="672.2" lengthAdjust="spacingAndGlyphs">资料来源：大模型竞技场（</text>
<text x="695.0" y="4504" font-size="57" font-weight="400" fill="#8c8c8c" text-anchor="start" textLength="214.6" lengthAdjust="spacingAndGlyphs" stroke="#8c8c8c" stroke-width="1.3" stroke-linejoin="round">Chatbot</text>
<text x="924.0" y="4504" font-size="57" font-weight="400" fill="#8c8c8c" text-anchor="start" textLength="150.5" lengthAdjust="spacingAndGlyphs" stroke="#8c8c8c" stroke-width="1.3" stroke-linejoin="round">Arena</text>
<text x="1078.5" y="4504" font-size="56" font-weight="500" fill="#8c8c8c" text-anchor="start" textLength="840.9" lengthAdjust="spacingAndGlyphs">），同一模型不同版本号不去重。</text>
<line x1="28" y1="4532" x2="2260" y2="4532" stroke="#858585" stroke-width="4" stroke-dasharray="8 7.94" stroke-dashoffset="4"/>
<text x="23.6" y="4608" font-size="56" font-weight="500" fill="#8c8c8c" text-anchor="start" textLength="111.9" lengthAdjust="spacingAndGlyphs">晚点</text>
<text x="149.5" y="4608" font-size="57" font-weight="400" fill="#8c8c8c" text-anchor="start" textLength="229.0" lengthAdjust="spacingAndGlyphs" stroke="#8c8c8c" stroke-width="1.3" stroke-linejoin="round">LatePost</text>
<text x="392.4" y="4608" font-size="56" font-weight="500" fill="#8c8c8c" text-anchor="start">制图</text>
</svg>
</body></html>
